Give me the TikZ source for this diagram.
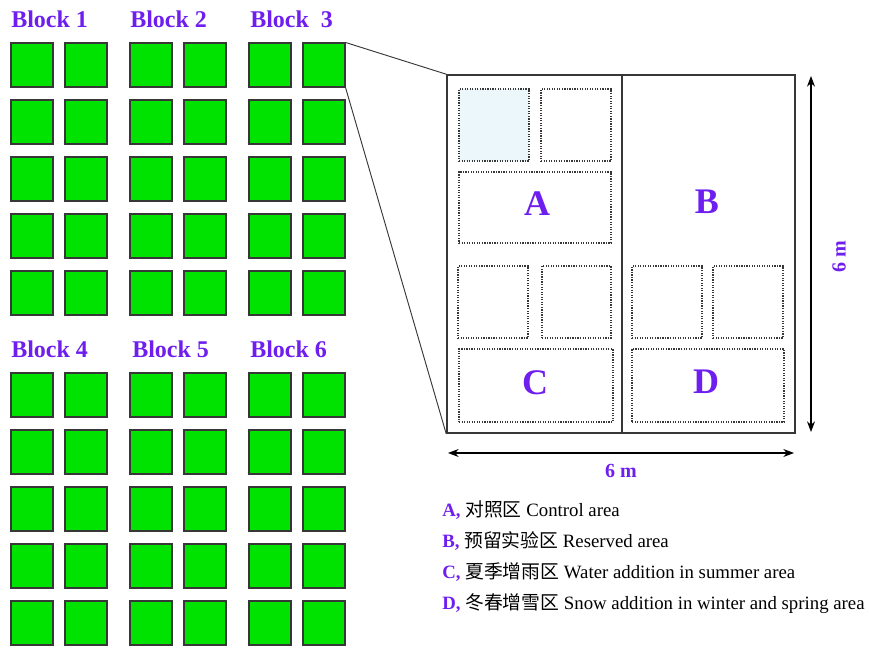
\documentclass[tikz,border=0pt]{standalone}
\usepackage{fontspec}
\setmainfont{Liberation Serif}
\newfontfamily\cjk{Noto Sans CJK SC}
\usetikzlibrary{arrows.meta}
\definecolor{labcol}{RGB}{110,30,238}
\definecolor{sqgreen}{RGB}{0,226,0}
\definecolor{edgegray}{RGB}{55,55,55}
\definecolor{paleblue}{RGB}{236,247,252}
\begin{document}
\begin{tikzpicture}[x=0.75pt,y=-0.75pt,
  plotsq/.style={draw=edgegray, fill=sqgreen, line width=0.8pt, inner sep=0pt,
     minimum width=31.5pt, minimum height=33pt},
  blocklab/.style={anchor=base west, inner sep=0pt, text=labcol, font=\fontsize{18}{18}\selectfont\bfseries},
  subplot/.style={draw=edgegray, densely dotted, line width=0.9pt, inner sep=0pt},
  arealab/.style={text=labcol, font=\fontsize{27}{27}\selectfont\bfseries},
  dimlab/.style={text=labcol, font=\fontsize{15}{15}\selectfont\bfseries},
  leg/.style={anchor=base west, inner sep=0pt, font=\fontsize{14.1}{14.1}\selectfont},
  zoomline/.style={draw=edgegray, line width=0.7pt},
  dimarrow/.style={draw=black, line width=0.8pt, {Stealth[length=8pt,width=6pt]}-{Stealth[length=8pt,width=6pt]}}
]
\useasboundingbox (0,0) rectangle (869,659);

% block labels
\node[blocklab] (b1) at (11,28) {Block 1};
\node[blocklab] (b2) at (130,28) {Block 2};
\node[blocklab] (b3) at (250,28) {Block\ \ 3};
\node[blocklab] (b4) at (11,358) {Block 4};
\node[blocklab] (b5) at (132,358) {Block 5};
\node[blocklab] (b6) at (250,358) {Block 6};

% green plot squares
\foreach \c/\x in {1/11,2/65,3/130,4/184,5/249,6/303}{
  \foreach \r/\y in {1/43,2/100,3/157,4/214,5/271}{
    \node[plotsq] (t-\r-\c) at (\x+21,\y+22) {};
  }
  \foreach \r/\y in {1/373,2/430,3/487,4/544,5/601}{
    \node[plotsq] (u-\r-\c) at (\x+21,\y+22) {};
  }
}

% enlarged plot
\node[draw=edgegray, line width=1.2pt, inner sep=0pt, minimum width=261pt, minimum height=268.5pt] (plot) at (621,254) {};
\draw[edgegray, line width=1.2pt] ([xshift=0.75pt]plot.north) -- ([xshift=0.75pt]plot.south);

% zoom lines
\draw[zoomline] (t-1-6.north east) -- (plot.north west);
\draw[zoomline] (t-1-6.south east) -- (plot.south west);

% subplots
\node[subplot, fill=paleblue, minimum width=52.5pt, minimum height=54pt] (s1) at (494,125) {};
\node[subplot, minimum width=52.5pt, minimum height=54pt] (s2) at (576,125) {};
\node[subplot, minimum width=114pt, minimum height=53.25pt] (sa) at (535,207.5) {};
\node[subplot, minimum width=52.5pt, minimum height=54pt] (s3) at (493,302) {};
\node[subplot, minimum width=51.75pt, minimum height=54pt] (s4) at (576.5,302) {};
\node[subplot, minimum width=52.5pt, minimum height=54pt] (s5) at (667,302) {};
\node[subplot, minimum width=52.5pt, minimum height=54pt] (s6) at (748,302) {};
\node[subplot, minimum width=115.5pt, minimum height=54.75pt] (sc) at (536,385.5) {};
\node[subplot, minimum width=114pt, minimum height=54.75pt] (sd) at (708,385.5) {};

\node[arealab] (la) at (537,204) {A};
\node[arealab] (lb) at (707,202) {B};
\node[arealab] (lc) at (535,383) {C};
\node[arealab] (ld) at (706,382) {D};

% dimensions
\coordinate (hl) at (448,453);
\coordinate (hr) at (794,453);
\draw[dimarrow] (hl) -- (hr);
\node[dimlab] (hm) at (621,471) {6 m};
\coordinate (vt) at (811,76);
\coordinate (vb) at (811,432);
\draw[dimarrow] (vt) -- (vb);
\node[dimlab, rotate=90] (vm) at (839,257) {6 m};

% legend
\node[leg] (la1) at (442,517) {\textcolor{labcol}{\bfseries A,} {\cjk 对照区} Control area};
\node[leg] (la2) at (442,548) {\textcolor{labcol}{\bfseries B,} {\cjk 预留实验区} Reserved area};
\node[leg] (la3) at (442,579) {\textcolor{labcol}{\bfseries C,} {\cjk 夏季增雨区} Water addition in summer area};
\node[leg] (la4) at (442,610) {\textcolor{labcol}{\bfseries D,} {\cjk 冬春增雪区} Snow addition in winter and spring area};
\end{tikzpicture}
\end{document}
